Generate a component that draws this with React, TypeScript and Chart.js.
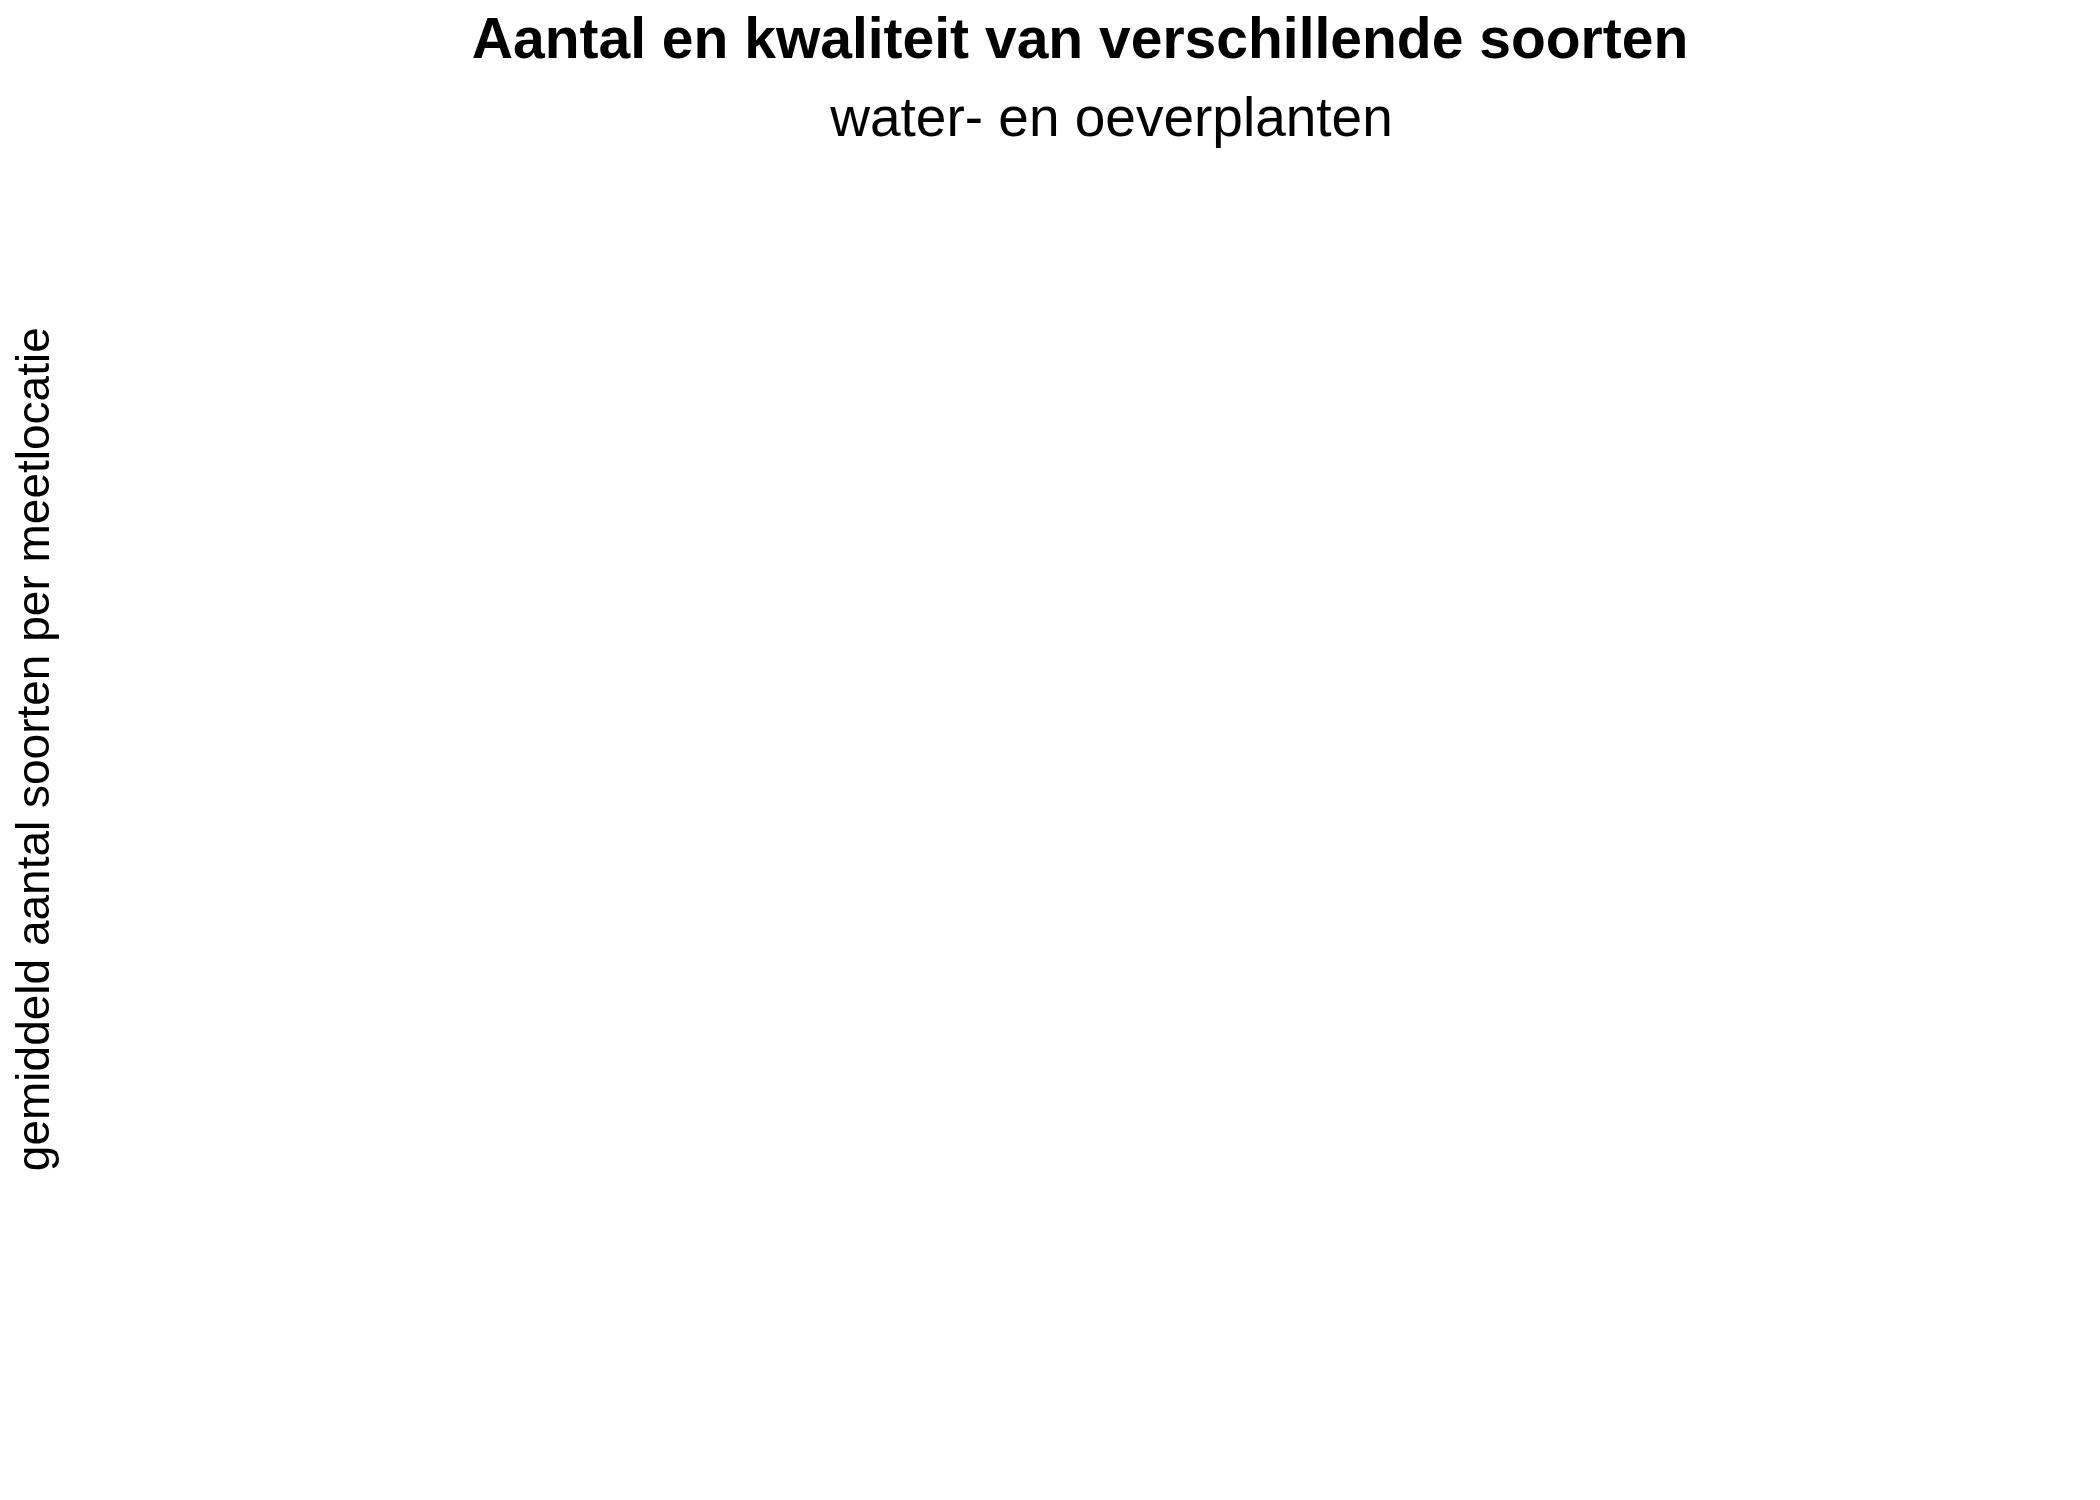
import React, { useRef, useEffect } from "react";
import Chart from "chart.js/auto";

const titleText = "Aantal en kwaliteit van verschillende soorten";
const subtitleText = "water- en oeverplanten";
const yAxisTitle = "gemiddeld aantal soorten per meetlocatie";

// the source picture has no marks at all, only the titles
const categories: string[] = [];
const speciesCount: number[] = [];

function SpeciesChart() {
	const chartRef = useRef<HTMLCanvasElement>(null);
	const chartInstance = useRef<Chart<"bar"> | null>(null);

	useEffect(() => {
		document.body.style.margin = "0";
		if (chartInstance.current) {
			chartInstance.current.destroy();
			chartInstance.current = null;
		}
		const ctx = chartRef.current?.getContext("2d");
		if (!ctx) return;

		chartInstance.current = new Chart(ctx, {
			type: "bar",
			data: {
				labels: categories,
				datasets: [
					{
						label: "soorten",
						data: speciesCount,
						backgroundColor: "#000000",
					},
				],
			},
			options: {
				animation: false,
				responsive: false,
				devicePixelRatio: 1,
				layout: {
					// right padding < 0 only widens the full-size title box, so it sits a bit right of centre
					padding: { left: 0, right: -60, top: 0, bottom: 155 },
				},
				plugins: {
					legend: { display: false },
					tooltip: { enabled: false },
					title: {
						display: true,
						text: titleText,
						color: "#000000",
						font: { family: "Liberation Sans", size: 57, weight: "bold", lineHeight: 1.2 },
						padding: { top: 8, bottom: 0 },
					},
					subtitle: {
						display: true,
						text: subtitleText,
						color: "#000000",
						fullSize: false,
						font: { family: "Liberation Sans", size: 55, weight: "normal", lineHeight: 1.2 },
						padding: { top: 11, bottom: 0 },
					},
				},
				scales: {
					x: { display: false },
					y: {
						display: true,
						grid: { display: false },
						border: { display: false },
						ticks: { display: false },
						title: {
							display: true,
							text: yAxisTitle,
							color: "#000000",
							font: { family: "Liberation Sans", size: 46, lineHeight: 1 },
							// bottom padding makes the axis box wide, which pushes the subtitle right
							padding: { top: 13, bottom: 56 },
						},
					},
				},
			},
		});

		return () => {
			if (chartInstance.current) {
				chartInstance.current.destroy();
				chartInstance.current = null;
			}
		};
	}, []);

	return <canvas ref={chartRef} width="2100" height="1500"></canvas>;
}

export default function App() {
	return <SpeciesChart />;
}
